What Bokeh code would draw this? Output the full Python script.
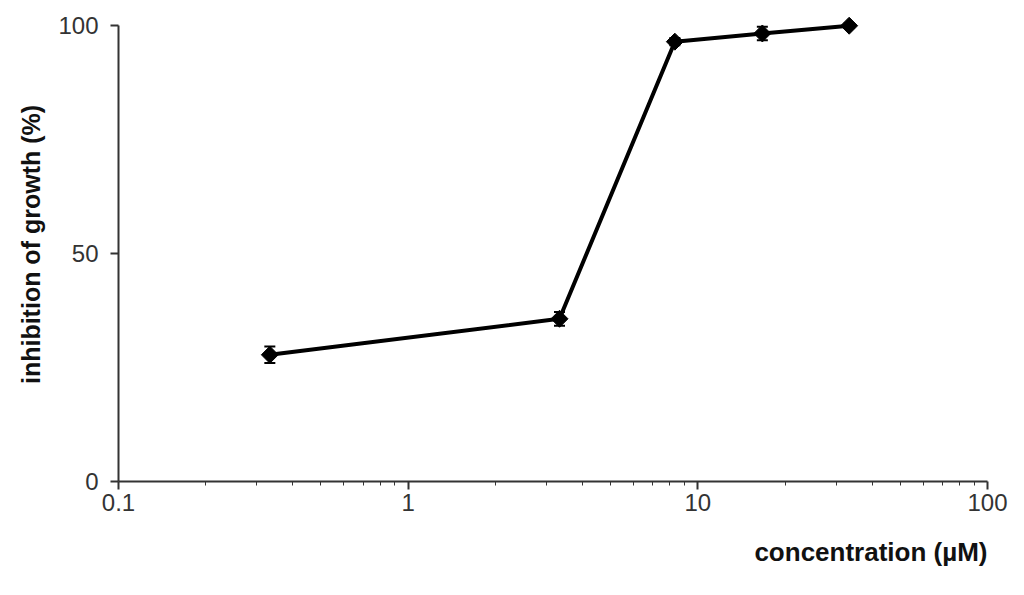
import math
from bokeh.plotting import figure
from bokeh.models import Whisker, ColumnDataSource, FixedTicker, Title
from bokeh.embed import file_html
from bokeh.resources import INLINE

conc = [0.333, 3.33, 8.33, 16.7, 33.3]
inhibition = [27.8, 35.7, 96.5, 98.3, 100.0]
err = [1.8, 1.5, 0.8, 1.5, 0.5]
x_ticks = [0.1, 1, 10, 100]
y_ticks = [0, 50, 100]

src = ColumnDataSource(dict(x=conc, y=inhibition,
                            lo=[v - e for v, e in zip(inhibition, err)],
                            hi=[v + e for v, e in zip(inhibition, err)]))

p = figure(width=1008, height=587, x_axis_type="log", x_range=(0.1, 100), y_range=(0, 104),
           output_backend="svg", toolbar_location=None,
           min_border_left=118, min_border_right=21, min_border_top=7, min_border_bottom=106)
p.outline_line_color = None
p.xgrid.visible = False
p.ygrid.visible = False

p.line("x", "y", source=src, line_color="black", line_width=4)
w = Whisker(base="x", lower="lo", upper="hi", source=src, line_color="black", line_width=2)
w.upper_head.size = 11
w.lower_head.size = 11
w.upper_head.line_width = 2
w.lower_head.line_width = 2
p.add_layout(w)
p.scatter("x", "y", source=src, marker="square", angle=math.pi / 4, size=12, color="black")

axis_col = "#333333"
text_col = "#333333"
font = "Liberation Sans"

p.xaxis.ticker = FixedTicker(ticks=x_ticks, minor_ticks=[b * m for b in [0.1, 1, 10] for m in range(2, 10)])
p.xaxis.major_label_overrides = {0.1: "0.1", 1: "1", 10: "10", 100: "100"}
p.yaxis.ticker = FixedTicker(ticks=y_ticks)
p.yaxis.bounds = (0, 100)

for ax in (p.xaxis[0], p.yaxis[0]):
    ax.axis_line_color = axis_col
    ax.axis_line_width = 2
    ax.major_tick_line_color = axis_col
    ax.major_tick_line_width = 2
    ax.minor_tick_line_color = axis_col
    ax.major_tick_in = 0
    ax.major_tick_out = 8
    ax.minor_tick_in = 0
    ax.minor_tick_out = 4
    ax.major_label_text_font = font
    ax.major_label_text_font_size = "24px"
    ax.major_label_text_color = text_col

p.yaxis.minor_tick_line_color = None
p.xaxis.major_label_standoff = 4
p.yaxis.major_label_standoff = 12

p.yaxis.axis_label = "inhibition of growth (%)"
p.yaxis.axis_label_text_font = font
p.yaxis.axis_label_text_font_style = "bold"
p.yaxis.axis_label_text_font_size = "25px"
p.yaxis.axis_label_text_color = "#111111"
p.yaxis.axis_label_standoff = 10

t = Title(text="concentration (\u00b5M)", align="right", text_font=font, text_font_style="bold",
          text_font_size="26px", text_color="#111111", offset=0, standoff=42)
p.add_layout(t, "below")

open("out.html", "w").write(file_html(p, INLINE))
